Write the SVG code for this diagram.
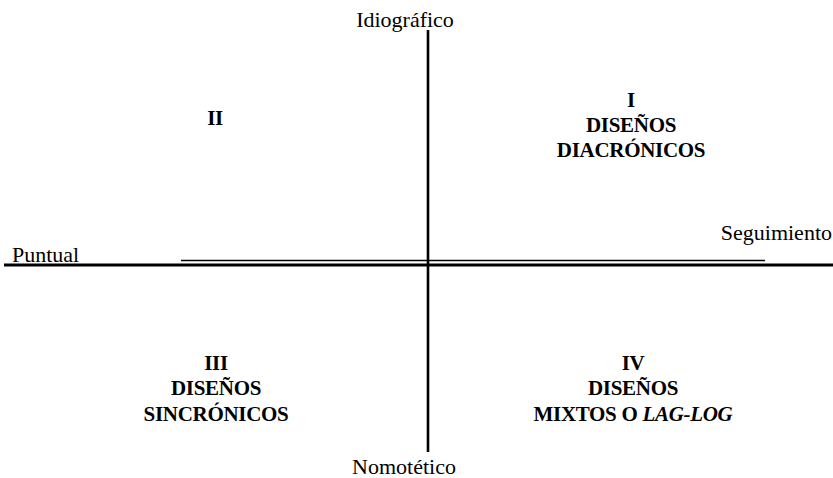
<svg xmlns="http://www.w3.org/2000/svg" width="833" height="478" viewBox="0 0 833 478">
<style>
.ax{font-size:22px;fill:#000}
.q{font-size:21px;font-weight:bold;fill:#000;text-anchor:middle;letter-spacing:-0.3px}
.line{stroke:#000;fill:none}
</style>
<rect width="833" height="478" fill="#fff"/>
<g id="connectors">
<line class="line" x1="4" y1="265" x2="833" y2="265" stroke-width="3.2"/>
<line class="line" x1="181" y1="260.5" x2="765" y2="260.5" stroke-width="1.6"/>
<line class="line" x1="428" y1="30" x2="428" y2="452" stroke-width="2.6"/>
</g>
<g id="axis-labels" font-family="Liberation Serif, Times New Roman, serif">
<text id="idiografico" class="ax" x="405" y="27" text-anchor="middle">Idiográfico</text>
<text id="nomotetico" class="ax" x="404" y="474" text-anchor="middle">Nomotético</text>
<text id="puntual" class="ax" x="12" y="262">Puntual</text>
<text id="seguimiento" class="ax" x="832" y="240" text-anchor="end">Seguimiento</text>
</g>
<g id="q1" font-family="Liberation Serif, Times New Roman, serif">
<text class="q" x="631" y="107">I</text>
<text class="q" x="631" y="132">DISEÑOS</text>
<text class="q" x="631" y="157">DIACRÓNICOS</text>
</g>
<g id="q2" font-family="Liberation Serif, Times New Roman, serif">
<text class="q" x="215" y="125">II</text>
</g>
<g id="q3" font-family="Liberation Serif, Times New Roman, serif">
<text class="q" x="216" y="370">III</text>
<text class="q" x="216" y="395">DISEÑOS</text>
<text class="q" x="216" y="421">SINCRÓNICOS</text>
</g>
<g id="q4" font-family="Liberation Serif, Times New Roman, serif">
<text class="q" x="633" y="370">IV</text>
<text class="q" x="633" y="395">DISEÑOS</text>
<text class="q" x="633" y="421">MIXTOS O <tspan font-style="italic">LAG-LOG</tspan></text>
</g>
</svg>
